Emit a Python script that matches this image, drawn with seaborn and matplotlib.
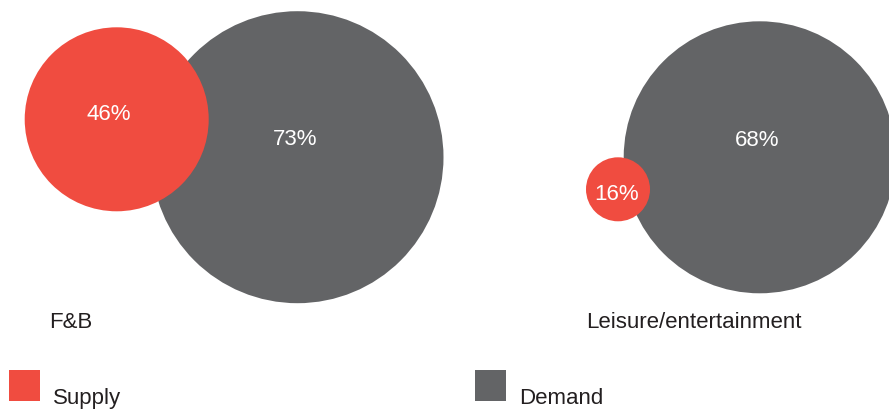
import matplotlib
matplotlib.use("Agg")
import matplotlib.pyplot as plt
from matplotlib.patches import Rectangle
import pandas as pd
import seaborn as sns

# Share of respondents, per category
categories = ["F&B", "Leisure/entertainment"]
series = ["Supply", "Demand"]
supply_values = [46, 16]
demand_values = [73, 68]

# Colours
SUPPLY_COLOR = "#F04C40"
DEMAND_COLOR = "#636466"
TEXT_COLOR = "#231F20"

# Layout (figure pixel coordinates, y downwards)
W, H, DPI = 889, 410, 100
PX_PER_PCT = 2.0                      # bubble radius in px per percentage point
supply_centers = [(116.7, 120.3), (618.0, 190.3)]
demand_centers = [(297.5, 158.2), (759.7, 158.3)]
supply_label_pos = [(108.5, 120.0), (617.0, 200.0)]
demand_label_pos = [(294.7, 145.0), (757.0, 145.7)]
category_label_pos = [(49.0, 328.3), (586.5, 328.3)]
legend_swatch_pos = [(9.0, 371.0), (475.0, 371.0)]
legend_text_pos = [(52.5, 404.3), (519.5, 404.3)]
SWATCH = 31

sns.set_theme(style="white")
plt.rcParams["font.family"] = ["Liberation Sans", "DejaVu Sans"]

# Demand rows first so the supply bubbles are drawn on top
rows = []
for i, cat in enumerate(categories):
    rows.append(dict(category=cat, series="Demand", value=demand_values[i],
                     x=demand_centers[i][0], y=demand_centers[i][1]))
for i, cat in enumerate(categories):
    rows.append(dict(category=cat, series="Supply", value=supply_values[i],
                     x=supply_centers[i][0], y=supply_centers[i][1]))
df = pd.DataFrame(rows)


def area(v):
    """Marker area in pt^2 for a bubble whose radius is v * PX_PER_PCT px."""
    d_px = 2 * v * PX_PER_PCT
    return (d_px * 72.0 / DPI) ** 2


size_map = {v: area(v) for v in df["value"].unique()}

fig = plt.figure(figsize=(W / DPI, H / DPI), dpi=DPI)
ax = fig.add_axes([0, 0, 1, 1])

sns.scatterplot(
    data=df, x="x", y="y", hue="series", size="value",
    sizes=size_map, palette={"Supply": SUPPLY_COLOR, "Demand": DEMAND_COLOR},
    linewidth=0, alpha=1, legend=False, ax=ax, zorder=2,
)

ax.set_xlim(0, W)
ax.set_ylim(H, 0)
ax.set_axis_off()

# value labels inside bubbles and category captions
for i in range(len(categories)):
    ax.text(*supply_label_pos[i], f"{supply_values[i]}%", ha="center",
            va="baseline", color="white", fontsize=16, zorder=3)
    ax.text(*demand_label_pos[i], f"{demand_values[i]}%", ha="center",
            va="baseline", color="white", fontsize=16, zorder=3)
    ax.text(*category_label_pos[i], categories[i], ha="left",
            va="baseline", color=TEXT_COLOR, fontsize=16, zorder=3)

# legend swatches
for (sx, sy), (tx, ty), name, col in zip(legend_swatch_pos, legend_text_pos,
                                         series, [SUPPLY_COLOR, DEMAND_COLOR]):
    ax.add_patch(Rectangle((sx, sy), SWATCH, SWATCH, facecolor=col,
                           edgecolor="none", zorder=3))
    ax.text(tx, ty, name, ha="left", va="baseline", color=TEXT_COLOR,
            fontsize=16, zorder=3)

fig.savefig("out.png", dpi=DPI, facecolor="white")
